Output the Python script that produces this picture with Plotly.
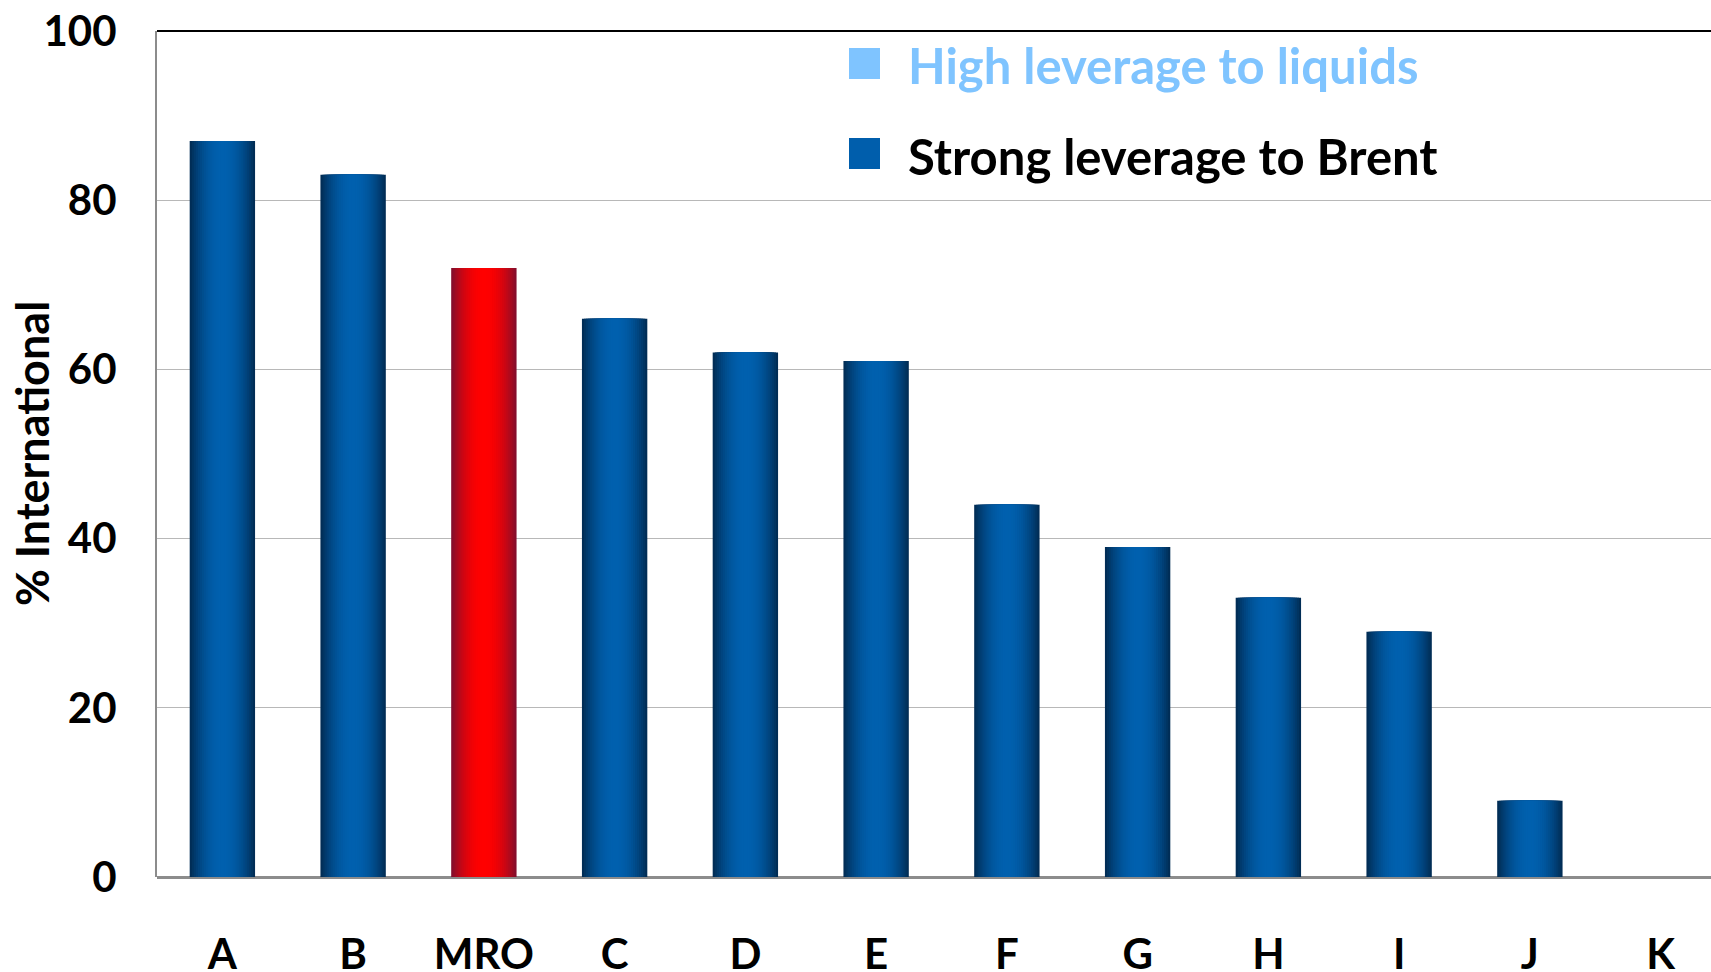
import plotly.graph_objects as go

# ---- data ----
categories = ["A", "B", "MRO", "C", "D", "E", "F", "G", "H", "I", "J", "K"]
pct_international = [87, 83, 72, 66, 62, 61, 44, 39, 33, 29, 9, 0]
highlight = "MRO"
y_ticks = [0, 20, 40, 60, 80, 100]
legend_labels = ["High leverage to liquids", "Strong leverage to Brent"]
legend_colors = ["#7fc4ff", "#005eac"]
legend_text_colors = ["#7fc4ff", "#000000"]

# ---- styling ----
FONT = "Lato"
W, H = 1711, 972
ML, MT, MB = 157, 31, 95
PW, PH = W - ML, H - MT - MB
SLOT = 130.75
XMAX = -0.5 + PW / SLOT

blue_edge, blue_mid = (0x01, 0x2d, 0x56), (0x00, 0x60, 0xae)
red_edge, red_mid = (0x85, 0x0e, 0x2c), (0xff, 0x00, 0x00)


def mix(a, b, t):
    return "rgb(%d,%d,%d)" % tuple(round(a[k] + (b[k] - a[k]) * t) for k in range(3))


fig = go.Figure()
n = 16
bar_w = 0.5
for i in range(n):
    t = i / (n - 1)
    s = 1 - (1 - t) ** 2
    w = bar_w * (n - i) / n
    cols = [mix(red_edge, red_mid, s) if c == highlight else mix(blue_edge, blue_mid, s)
            for c in categories]
    fig.add_trace(go.Bar(x=categories, y=pct_international, width=w,
                         marker=dict(color=cols, line=dict(width=0)),
                         showlegend=False, hoverinfo="skip"))

fig.update_layout(
    width=W, height=H,
    margin=dict(l=ML, r=0, t=MT, b=MB, pad=0),
    barmode="overlay",
    plot_bgcolor="white", paper_bgcolor="white",
    font=dict(family=FONT, size=42, color="black", weight="bold"),
    showlegend=False,
)
fig.update_xaxes(type="category", range=[-0.5, XMAX], showgrid=False, automargin=False,
                 showline=False, ticks="", ticklabelstandoff=49,
                 tickfont=dict(family=FONT, size=42, weight="bold"))
fig.update_yaxes(range=[0, 100], tickvals=y_ticks, showgrid=True, automargin=False,
                 gridcolor="#b8b8b8", gridwidth=1,
                 zeroline=True, zerolinecolor="#8c8c8c", zerolinewidth=3,
                 showline=True, linecolor="#8c8c8c", linewidth=2,
                 ticks="", ticklabelstandoff=30,
                 tickfont=dict(family=FONT, size=42, weight="bold"))

# top border
fig.add_shape(type="line", xref="paper", yref="paper", x0=0, x1=1, y0=1, y1=1,
              line=dict(color="black", width=2))

# y-axis title
fig.add_annotation(text="% International", xref="paper", yref="paper",
                   x=(32 - ML) / PW, y=(H - MB - 454) / PH, xanchor="center", yanchor="middle",
                   textangle=-90, showarrow=False,
                   font=dict(family=FONT, size=45, weight="bold", color="black"))

# legend
rows_px = [63.5, 153.5]
for k, (lab, col, tcol) in enumerate(zip(legend_labels, legend_colors, legend_text_colors)):
    yc = rows_px[k]
    fig.add_shape(type="rect", xref="paper", yref="paper",
                  x0=(849 - ML) / PW, x1=(880 - ML) / PW,
                  y0=(H - MB - (yc + 15.5)) / PH, y1=(H - MB - (yc - 15.5)) / PH,
                  fillcolor=col, line=dict(width=0))
    fig.add_annotation(text=lab, xref="paper", yref="paper",
                       x=(906 - ML) / PW, y=(H - MB - (yc + 2)) / PH,
                       xanchor="left", yanchor="middle", showarrow=False,
                       font=dict(family=FONT, size=49, weight="bold", color=tcol))

fig.write_html("out.html", config={"displayModeBar": False},
               post_script="document.body.style.margin='0';document.body.style.overflow='hidden';")
